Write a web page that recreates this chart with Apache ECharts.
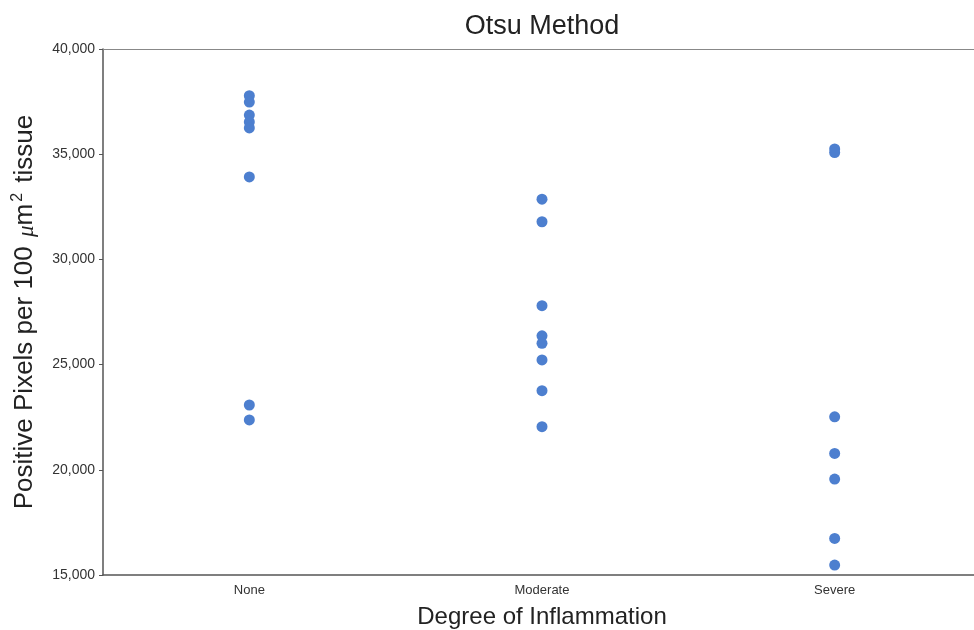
<!DOCTYPE html>
<html><head><meta charset="utf-8">
<script src="https://cdn.jsdelivr.net/npm/echarts@6/dist/echarts.min.js"></script>
<style>html,body{margin:0;padding:0;background:#fff}#c{width:974px;height:630px}</style>
</head><body><div id="c"></div>
<script>
const categories = ['None', 'Moderate', 'Severe'];
const noneValues = [37780, 37480, 36860, 36530, 36250, 33920, 23080, 22370];
const moderateValues = [32860, 31790, 27800, 26370, 26010, 25220, 23760, 22050];
const severeValues = [35250, 35080, 22520, 20780, 19560, 16740, 15470];
const yTicks = [15000, 20000, 25000, 30000, 35000, 40000];

const points = [];
[noneValues, moderateValues, severeValues].forEach((arr, i) => {
  arr.forEach(v => points.push([categories[i], v]));
});

const chart = echarts.init(document.getElementById('c'));
const axisColor = '#555';
const labelFont = "'Liberation Sans Narrow', 'Liberation Sans', Arial, sans-serif";
chart.setOption({
  animation: false,
  backgroundColor: '#fff',
  graphic: [{
    type: 'text', x: 542, y: 13, z: 10,
    style: { text: 'Otsu Method', textAlign: 'center', textVerticalAlign: 'top', fontFamily: 'Liberation Sans, Arial, sans-serif', fontSize: 27, fill: '#222' }
  }],
  grid: { left: 103, top: 49, width: 878, height: 526, containLabel: false, outerBoundsMode: 'none' },
  xAxis: [{
    type: 'category', data: categories, boundaryGap: true, position: 'bottom',
    axisLine: { lineStyle: { color: axisColor, width: 1.5 } },
    axisTick: { inside: true, length: 6, alignWithLabel: true, lineStyle: { color: axisColor } },
    axisLabel: { fontFamily: labelFont, fontSize: 13, color: '#333', margin: 9 },
    name: 'Degree of Inflammation', nameLocation: 'middle', nameGap: 30,
    nameTextStyle: { fontFamily: 'Liberation Sans, Arial, sans-serif', fontSize: 24, color: '#222' },
    splitLine: { show: false }
  }, {
    type: 'category', data: categories, boundaryGap: true, position: 'top',
    axisLine: { lineStyle: { color: '#888', width: 1.2 } },
    axisTick: { inside: true, length: 6, alignWithLabel: true, lineStyle: { color: axisColor } },
    axisLabel: { show: false }, splitLine: { show: false }
  }],
  yAxis: [{
    type: 'value', min: 15000, max: 40000, interval: 5000, position: 'left',
    axisLine: { show: true, lineStyle: { color: axisColor, width: 1.5 } },
    axisTick: { show: true, length: 4, lineStyle: { color: axisColor } },
    axisLabel: {
      fontFamily: labelFont, fontSize: 14, color: '#333', margin: 8,
      formatter: v => yTicks.includes(v) ? v.toLocaleString('en-US') : ''
    },
    splitLine: { show: false },
    name: '{a|Positive Pixels per 100 }{m|μ}{a|m}{s|2}{a| tissue}',
    nameLocation: 'middle', nameGap: 65, nameRotate: 90,
    nameTextStyle: {
      rich: {
        a: { fontFamily: 'Liberation Sans, Arial, sans-serif', fontSize: 26, color: '#222', verticalAlign: 'bottom', lineHeight: 28 },
        m: { fontFamily: 'Liberation Serif, serif', fontSize: 23, fontStyle: 'italic', color: '#222', verticalAlign: 'bottom', lineHeight: 28, padding: [0, 0, 0, 2] },
        s: { fontFamily: 'Liberation Sans, Arial, sans-serif', fontSize: 16, color: '#222', verticalAlign: 'top', lineHeight: 28, padding: [0, 3, 14, 2] }
      }
    }
  }, {
    type: 'value', min: 15000, max: 40000, interval: 5000, position: 'right',
    axisLine: { show: true, lineStyle: { color: '#888', width: 1.2 } },
    axisTick: { show: true, inside: true, length: 4, lineStyle: { color: axisColor } },
    axisLabel: { show: false }, splitLine: { show: false }
  }],
  series: [{
    type: 'scatter', xAxisIndex: 0, yAxisIndex: 0,
    data: points, symbol: 'circle', symbolSize: 11,
    itemStyle: { color: '#4d7fcf', opacity: 1 }
  }]
});
</script></body></html>
